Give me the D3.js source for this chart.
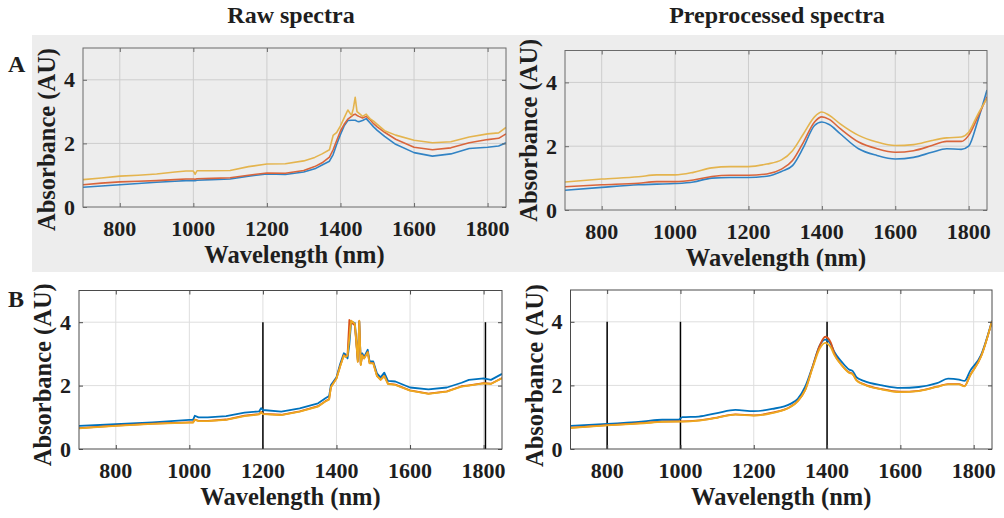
<!DOCTYPE html>
<html>
<head>
<meta charset="utf-8">
<script src="https://cdn.jsdelivr.net/npm/d3@7"></script>
<style>
  html, body { margin: 0; padding: 0; background: #ffffff; }
  svg { display: block; }
  text { font-family: "Liberation Serif", "Times New Roman", serif; font-weight: bold; fill: #1e1e1e; }
</style>
</head>
<body>
<svg id="chart" width="1004" height="518"></svg>
<script>
// ---------------- DATA ----------------
const xTicks = [800, 1000, 1200, 1400, 1600, 1800];
const yTicks = [0, 2, 4];
const columnTitles = ["Raw spectra", "Preprocessed spectra"];
const rowLetters = ["A", "B"];
const xLabel = "Wavelength (nm)";
const yLabel = "Absorbance (AU)";

// Panel A – raw spectra
const aRawWl = [700,750,800,850,900,950,980,1000,1005,1010,1050,1100,1150,1200,1250,1300,1330,1350,1370,1380,1390,1400,1410,1420,1430,1435,1440,1445,1450,1460,1470,1480,1490,1500,1520,1550,1600,1650,1700,1750,1800,1830,1850];
const aRawBlue   = [0.62,0.66,0.70,0.74,0.78,0.81,0.83,0.83,0.83,0.84,0.86,0.88,0.97,1.04,1.02,1.10,1.20,1.32,1.44,1.65,1.98,2.28,2.55,2.72,2.73,2.73,2.73,2.70,2.68,2.72,2.78,2.65,2.52,2.41,2.22,1.97,1.71,1.60,1.67,1.84,1.88,1.92,2.02];
const aRawRed    = [0.70,0.75,0.79,0.81,0.83,0.86,0.88,0.88,0.87,0.89,0.90,0.92,1.00,1.07,1.06,1.15,1.27,1.39,1.57,1.80,2.10,2.39,2.60,2.76,2.85,2.90,2.92,2.88,2.85,2.80,2.85,2.75,2.62,2.52,2.35,2.13,1.88,1.80,1.86,2.02,2.12,2.16,2.30];
const aRawYellow = [0.86,0.91,0.97,1.00,1.04,1.10,1.13,1.13,1.03,1.14,1.14,1.15,1.27,1.35,1.36,1.45,1.56,1.67,1.80,2.25,2.35,2.55,2.80,3.05,2.88,3.10,3.45,3.00,2.95,2.85,2.92,2.78,2.70,2.60,2.40,2.26,2.10,2.02,2.05,2.20,2.30,2.33,2.50];

// Panel A – preprocessed spectra
const aPreWl = [700,800,900,950,1000,1050,1100,1150,1200,1250,1290,1320,1350,1380,1400,1420,1450,1500,1550,1600,1650,1700,1740,1780,1800,1825,1850];
const aPreBlue   = [0.62,0.71,0.79,0.81,0.83,0.88,1.00,1.02,1.02,1.06,1.21,1.39,1.97,2.65,2.76,2.68,2.39,1.92,1.71,1.60,1.65,1.81,1.92,1.90,2.00,2.80,3.76];
const aPreRed    = [0.73,0.79,0.84,0.89,0.89,0.94,1.05,1.09,1.09,1.13,1.28,1.55,2.13,2.76,2.92,2.84,2.55,2.13,1.92,1.81,1.86,2.02,2.15,2.15,2.34,2.92,3.55];
const aPreYellow = [0.88,0.97,1.04,1.10,1.10,1.18,1.32,1.36,1.36,1.44,1.57,1.86,2.39,2.92,3.07,2.97,2.70,2.34,2.13,2.02,2.05,2.18,2.26,2.29,2.44,3.00,3.50];

// Panel B – raw spectra
const bRawWl = [700,800,900,1000,1010,1015,1025,1050,1100,1150,1190,1195,1200,1250,1300,1350,1370,1380,1385,1400,1410,1420,1425,1430,1435,1440,1450,1458,1462,1466,1470,1475,1485,1490,1500,1510,1520,1530,1540,1560,1600,1650,1700,1740,1760,1800,1820,1850];
const bRawBlue   = [0.73,0.78,0.84,0.92,0.92,1.05,1.00,1.00,1.04,1.15,1.19,1.29,1.23,1.18,1.28,1.44,1.60,1.67,2.02,2.26,2.68,3.02,2.98,2.86,3.30,4.02,3.97,2.81,4.02,2.70,3.02,2.90,3.13,2.76,2.76,2.39,2.26,2.41,2.15,2.13,1.94,1.88,1.94,2.09,2.18,2.23,2.18,2.37];
const bRawRed    = [0.66,0.74,0.80,0.84,0.84,0.93,0.89,0.89,0.93,1.05,1.10,1.17,1.11,1.08,1.19,1.35,1.51,1.57,1.96,2.23,2.62,2.96,2.92,2.96,4.07,4.00,3.90,2.76,4.03,2.66,2.96,2.86,3.06,2.71,2.71,2.31,2.19,2.31,2.06,2.03,1.85,1.75,1.82,1.98,2.01,2.08,2.06,2.24];
const bRawYellow = [0.65,0.73,0.79,0.83,0.83,0.92,0.88,0.88,0.92,1.04,1.09,1.16,1.10,1.07,1.18,1.34,1.50,1.56,1.95,2.22,2.60,2.95,2.90,2.95,3.50,4.05,3.95,2.75,4.05,2.65,2.95,2.85,3.05,2.70,2.70,2.30,2.18,2.30,2.05,2.02,1.84,1.74,1.81,1.97,2.00,2.07,2.05,2.23];
const bRawMarkers = [1200, 1805];

// Panel B – preprocessed spectra
const bPreWl = [700,800,900,950,995,1005,1050,1100,1150,1200,1250,1300,1320,1340,1360,1380,1395,1410,1420,1440,1460,1470,1480,1500,1550,1600,1650,1700,1730,1760,1775,1790,1820,1850];
const bPreBlue   = [0.73,0.79,0.87,0.92,0.92,1.00,1.02,1.13,1.23,1.19,1.26,1.42,1.58,1.95,2.58,3.26,3.44,3.30,3.05,2.74,2.50,2.45,2.26,2.14,2.00,1.92,1.95,2.07,2.21,2.18,2.14,2.45,2.95,4.03];
const bPreRed    = [0.67,0.75,0.82,0.86,0.87,0.87,0.90,0.99,1.09,1.06,1.14,1.33,1.51,1.85,2.56,3.25,3.53,3.35,3.00,2.64,2.41,2.36,2.17,2.04,1.88,1.80,1.83,1.96,2.04,2.04,1.98,2.31,2.91,4.02];
const bPreYellow = [0.66,0.74,0.81,0.85,0.86,0.86,0.89,0.98,1.08,1.05,1.13,1.32,1.50,1.84,2.53,3.16,3.34,3.20,2.95,2.63,2.40,2.35,2.16,2.03,1.87,1.79,1.82,1.95,2.03,2.03,1.97,2.30,2.90,4.02];
const bPreMarkers = [800, 1000, 1400];

// ---------------- LAYOUT / STYLE ----------------
const svg = d3.select("#chart");

// gray band behind row A
svg.append("rect").attr("x", 32).attr("y", 35).attr("width", 972).attr("height", 237).attr("fill", "#ededed");

const topColors = ["#3283c4", "#d9653c", "#e4b44e"];
const botColors = ["#0072BD", "#D95319", "#EDA920"];

const panels = [
  { box: [83, 48, 506, 207], labelDy: 12, wl: aRawWl, series: [aRawBlue, aRawRed, aRawYellow], colors: topColors, style: "A", curve: d3.curveLinear, markers: [] },
  { box: [565, 50.5, 987, 210], labelDy: 0, wl: aPreWl, series: [aPreBlue, aPreRed, aPreYellow], colors: topColors, style: "A", curve: d3.curveMonotoneX, markers: [] },
  { box: [79, 290.5, 502, 449], labelDy: 5, wl: bRawWl, series: [bRawBlue, bRawRed, bRawYellow], colors: botColors, style: "B", curve: d3.curveLinear, markers: bRawMarkers },
  { box: [570.5, 290, 992, 449], labelDy: 6, wl: bPreWl, series: [bPreBlue, bPreRed, bPreYellow], colors: botColors, style: "B", curve: d3.curveMonotoneX, markers: bPreMarkers }
];

panels.forEach((p, i) => {
  const [x0, y0, x1, y1] = p.box;
  const x = d3.scaleLinear().domain([700, 1850]).range([x0, x1]);
  const y = d3.scaleLinear().domain([0, 5]).range([y1, y0]);
  const isA = p.style === "A";
  const g = svg.append("g");

  if (!isA) {
    g.append("rect").attr("x", x0).attr("y", y0).attr("width", x1 - x0).attr("height", y1 - y0).attr("fill", "#ffffff");
  }
  const gridColor = isA ? "#cdcdcd" : "#dedede";
  g.selectAll(".gx").data(xTicks).enter().append("line")
    .attr("x1", d => x(d)).attr("x2", d => x(d)).attr("y1", y0).attr("y2", y1)
    .attr("stroke", gridColor).attr("stroke-width", 1);
  g.selectAll(".gy").data(yTicks.filter(d => d > 0)).enter().append("line")
    .attr("y1", d => y(d)).attr("y2", d => y(d)).attr("x1", x0).attr("x2", x1)
    .attr("stroke", gridColor).attr("stroke-width", 1);

  g.selectAll(".mk").data(p.markers).enter().append("line")
    .attr("x1", d => x(d)).attr("x2", d => x(d)).attr("y1", y(4)).attr("y2", y(0))
    .attr("stroke", "#000").attr("stroke-width", 1.5);

  const clipId = "clip" + i;
  svg.append("clipPath").attr("id", clipId).append("rect")
    .attr("x", x0).attr("y", y0 - 2).attr("width", x1 - x0).attr("height", y1 - y0 + 2);
  const line = d3.line().x((d, k) => x(p.wl[k])).y(d => y(d)).curve(p.curve);
  p.series.forEach((s, k) => {
    g.append("path").attr("d", line(s)).attr("fill", "none")
      .attr("stroke", p.colors[k]).attr("stroke-width", isA ? 1.6 : 1.8)
      .attr("stroke-linejoin", "round").attr("clip-path", `url(#${clipId})`);
  });

  const boxColor = isA ? "#6b6b6b" : "#4a4a4a";
  g.append("rect").attr("x", x0).attr("y", y0).attr("width", x1 - x0).attr("height", y1 - y0)
    .attr("fill", "none").attr("stroke", boxColor).attr("stroke-width", 1);

  const xAxisB = d3.axisBottom(x).tickValues(xTicks).tickSize(-4).tickFormat("");
  const xAxisT = d3.axisTop(x).tickValues(xTicks).tickSize(-4).tickFormat("");
  const yAxisL = d3.axisLeft(y).tickValues(yTicks).tickSize(-4).tickFormat("");
  const yAxisR = d3.axisRight(y).tickValues(yTicks).tickSize(-4).tickFormat("");
  [[xAxisB, `translate(0,${y1})`], [xAxisT, `translate(0,${y0})`], [yAxisL, `translate(${x0},0)`], [yAxisR, `translate(${x1},0)`]]
    .forEach(([ax, tr]) => {
      const a = g.append("g").attr("transform", tr).call(ax);
      a.select(".domain").remove();
      a.selectAll("line").attr("stroke", boxColor);
    });

  g.selectAll(".xl").data(xTicks).enter().append("text")
    .attr("x", d => x(d)).attr("y", y1 + 29).attr("text-anchor", "middle")
    .attr("font-size", 22).text(d => d);
  g.selectAll(".yl").data(yTicks).enter().append("text")
    .attr("x", x0 - 8).attr("y", d => y(d) + 7.5).attr("text-anchor", "end")
    .attr("font-size", 22).text(d => d);

  g.append("text").attr("x", (x0 + x1) / 2).attr("y", y1 + 56).attr("text-anchor", "middle")
    .attr("font-size", 24.5).text(xLabel);
  const cy = (y0 + y1) / 2 + p.labelDy;
  g.append("text").attr("transform", `translate(${x0 - 28},${cy}) rotate(-90)`)
    .attr("text-anchor", "middle").attr("font-size", 24.5).text(yLabel);
});

svg.selectAll(".title").data(columnTitles).enter().append("text")
  .attr("x", (d, i) => i === 0 ? 291 : 777).attr("y", 23)
  .attr("text-anchor", "middle").attr("font-size", 24).text(d => d);

svg.selectAll(".letter").data(rowLetters).enter().append("text")
  .attr("x", 8).attr("y", (d, i) => i === 0 ? 72 : 307)
  .attr("font-size", 24).text(d => d);
</script>
</body>
</html>
